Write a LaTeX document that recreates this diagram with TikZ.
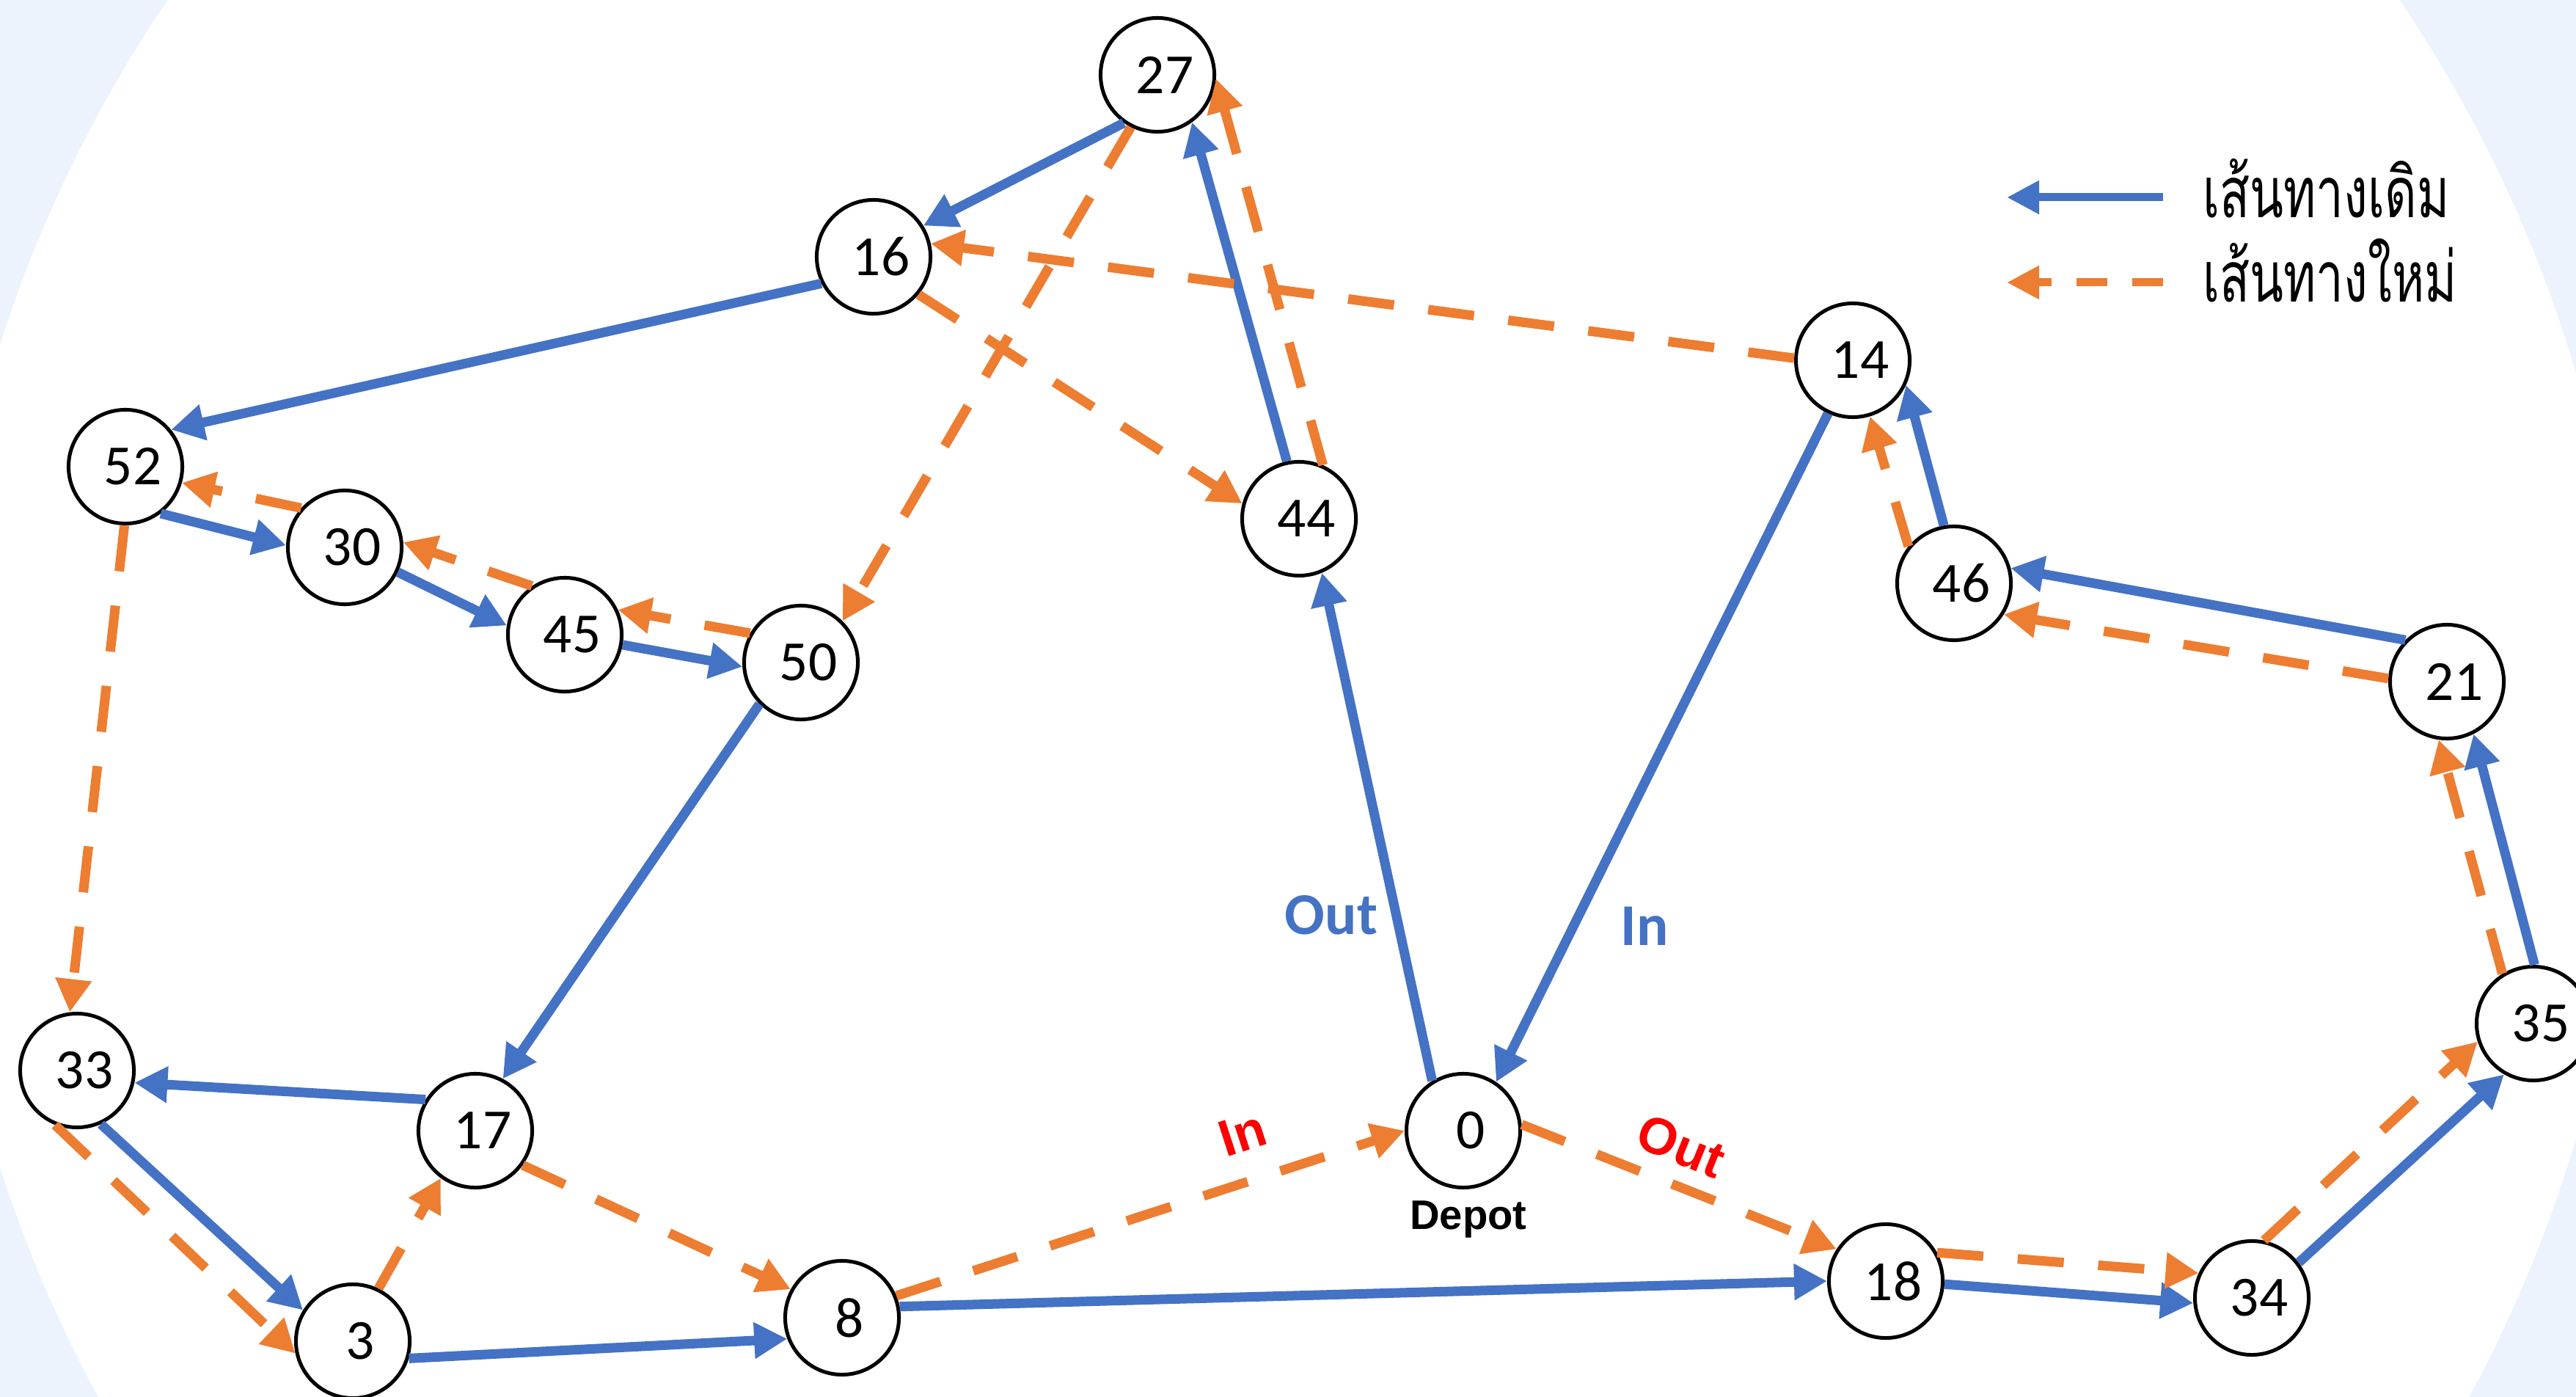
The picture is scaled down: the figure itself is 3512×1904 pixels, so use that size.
\documentclass[tikz,border=0pt]{standalone}
\usepackage{fontspec}
\usepackage{graphicx}
\setmainfont{Carlito}
\newfontfamily\thaifont[Script=Thai]{Loma}
\newfontfamily\arialfont{Liberation Sans}
\usetikzlibrary{arrows.meta}
\definecolor{myblue}{HTML}{4472C4}
\definecolor{myorange}{HTML}{ED7D31}
\definecolor{bgblue}{RGB}{236,243,252}
\begin{document}
\begin{tikzpicture}[x=0.01cm,y=-0.01cm,
  nd/.style={circle, draw=black, fill=white, line width=0.05cm, minimum size=1.55cm, inner sep=0pt, font=\fontsize{22}{26}\selectfont},
  tip/.style={-{Triangle[length=0.45cm,width=0.47cm]}},
  bl/.style={draw=myblue, line width=0.13cm, tip},
  og/.style={draw=myorange, line width=0.13cm, dash pattern=on 0.63cm off 0.47cm, tip},
  legbl/.style={draw=myblue, line width=0.11cm, -{Triangle[length=0.44cm,width=0.43cm]}},
  legog/.style={draw=myorange, line width=0.11cm, dash pattern=on 0.42cm off 0.34cm, -{Triangle[length=0.44cm,width=0.43cm]}},
  bluelab/.style={text=myblue, font=\bfseries\fontsize{23}{27}\selectfont, inner sep=0pt},
  redlab/.style={text=red, font=\arialfont\bfseries\fontsize{20}{24}\selectfont, inner sep=0pt},
  legtext/.style={anchor=base west, inner sep=0pt, font=\thaifont\fontsize{21}{26}\selectfont}
]
\useasboundingbox (0,0) rectangle (3512,1904);
\clip (0,0) rectangle (3512,1904);
\fill[bgblue] (0,0) rectangle (3512,1904);
\fill[white] (1750,1030) circle[radius=18.36cm];

% nodes
\newcommand{\nlab}[1]{\hspace*{0.2cm}#1}
\node[nd] (n27) at (1578,102) {\nlab{27}};
\node[nd] (n16) at (1191,350) {\nlab{16}};
\node[nd] (n52) at (171,636) {\nlab{52}};
\node[nd] (n30) at (470,746) {\nlab{30}};
\node[nd] (n45) at (770,865) {\nlab{45}};
\node[nd] (n50) at (1092,903) {\nlab{50}};
\node[nd] (n44) at (1771,707) {\nlab{44}};
\node[nd] (n14) at (2526,491) {\nlab{14}};
\node[nd] (n46) at (2664,795) {\nlab{46}};
\node[nd] (n21) at (3336,929) {\nlab{21}};
\node[nd] (n35) at (3454,1395) {\nlab{35}};
\node[nd] (n34) at (3070,1769) {\nlab{34}};
\node[nd] (n18) at (2571,1746) {\nlab{18}};
\node[nd] (n0) at (1995,1541) {\nlab{0}};
\node[nd] (n8) at (1148,1796) {\nlab{8}};
\node[nd] (n3) at (481,1828) {\nlab{3}};
\node[nd] (n17) at (648,1541) {\nlab{17}};
\node[nd] (n33) at (105,1459) {\nlab{33}};

% original route (blue)
\draw[bl] (n0.122) -- (n44.293);
\draw[bl] (n44.102) -- (n27.306);
\draw[bl] (n27.235) -- (n16.32);
\draw[bl] (n16.207) -- (n52.39);
\draw[bl] (n52.307) -- (n30.178);
\draw[bl] (n30.335) -- (n45.171);
\draw[bl] (n45.350) -- (n50.184);
\draw[bl] (n50.225) -- (n17.62);
\draw[bl] (n17.148) -- (n33.348);
\draw[bl] (n33.294) -- (n3.148);
\draw[bl] (n3.343) -- (n8.201);
\draw[bl] (n8.11) -- (n18.180);
\draw[bl] (n18.357) -- (n34.185);
\draw[bl] (n34.37) -- (n35.240);
\draw[bl] (n35.89) -- (n21.297);
\draw[bl] (n21.135) -- (n46.15);
\draw[bl] (n46.100) -- (n14.335);
\draw[bl] (n14.245) -- (n0.56);

% new route (orange dashed)
\draw[og] (n0.6) -- (n18.147);
\draw[og] (n18.29) -- (n34.155);
\draw[og] (n34.78) -- (n35.198);
\draw[og] (n35.122) -- (n21.262);
\draw[og] (n21.177) -- (n46.328);
\draw[og] (n46.141) -- (n14.287);
\draw[og] (n14.178) -- (n16.13);
\draw[og] (n16.320) -- (n44.165);
\draw[og] (n44.66) -- (n27.356);
\draw[og] (n27.243) -- (n50.45);
\draw[og] (n50.150) -- (n45.25);
\draw[og] (n45.124) -- (n30.5);
\draw[og] (n30.138) -- (n52.344);
\draw[og] (n52.269) -- (n33.97);
\draw[og] (n33.248) -- (n3.192);
\draw[og] (n3.64) -- (n17.234);
\draw[og] (n17.324) -- (n8.151);
\draw[og] (n8.22) -- (n0.180);

% labels
\node[bluelab] (lout) at (1815,1247) {Out};
\node[bluelab] (lin) at (2242,1262) {In};
\node[redlab, rotate=18] (rin) at (1694,1545) {In};
\node[redlab, rotate=-22] (rout) at (2292,1562) {Out};
\node[inner sep=0pt, font=\arialfont\bfseries\fontsize{16}{19}\selectfont] (depot) at (2002,1662) {Depot};

% legend
\coordinate (la1) at (2949,269);
\coordinate (la2) at (2736,269);
\coordinate (lb1) at (2949,385);
\coordinate (lb2) at (2736,385);
\draw[legbl] (la1) -- (la2);
\draw[legog] (lb1) -- (lb2);
\node[legtext] (lt1) at (3003,297) {\scalebox{0.91}[1.3]{เส้นทางเดิม}};
\node[legtext] (lt2) at (3003,412) {\scalebox{0.91}[1.3]{เส้นทางใหม่}};
\end{tikzpicture}
\end{document}
